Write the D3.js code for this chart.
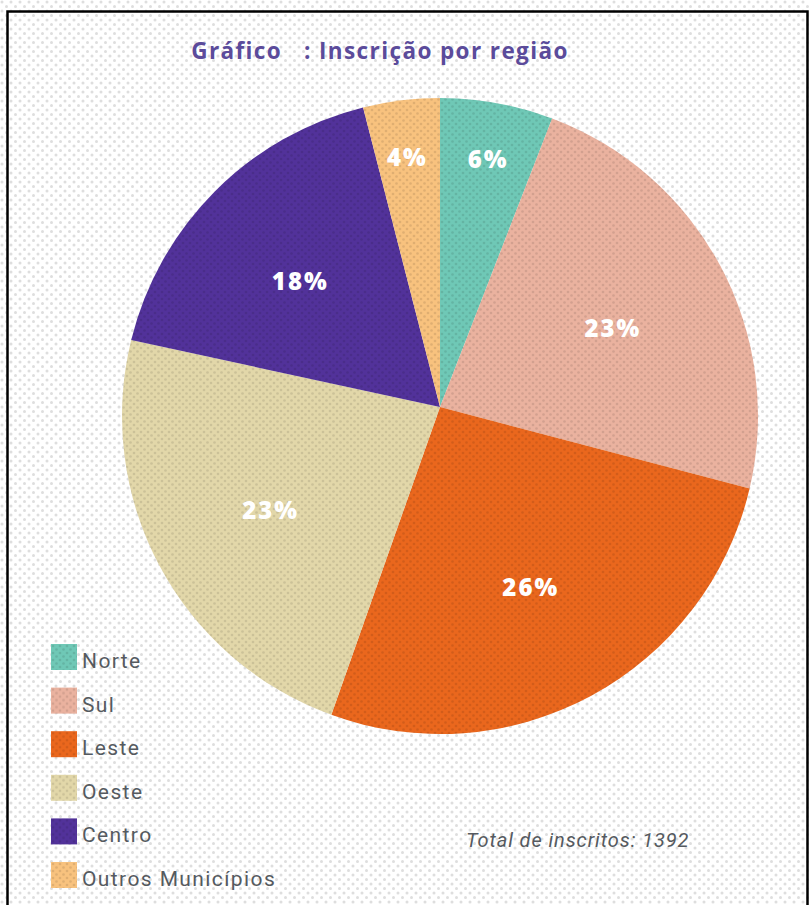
<!DOCTYPE html>
<html>
<head>
<meta charset="utf-8">
<script src="https://cdn.jsdelivr.net/npm/d3@7"></script>
<style>
  html, body { margin: 0; padding: 0; background: #fff; }
  svg { display: block; }
</style>
</head>
<body>
<svg id="chart" width="809" height="905"></svg>
<script>
// ---- data ----
const categories = ["Norte", "Sul", "Leste", "Oeste", "Centro", "Outros Municípios"];
// shares (%); labels are the rounded values
const shares = [5.9, 23.2, 26.3, 23.0, 17.6, 4.0];
const colors = ["#6fc8b6", "#eab29f", "#ea671d", "#e2d7a9", "#52329a", "#f8c27e"];
const titleText = "Gráfico   : Inscrição por região";
const totalText = "Total de inscritos: 1392";

const W = 809, H = 905;
const svg = d3.select("#chart");
const defs = svg.append("defs");

// background dot pattern
const bg = defs.append("pattern").attr("id", "bgdots")
  .attr("width", 9).attr("height", 9).attr("patternUnits", "userSpaceOnUse");
bg.append("rect").attr("width", 9).attr("height", 9).attr("fill", "#ffffff");
bg.append("circle").attr("cx", 2).attr("cy", 2).attr("r", 1.5).attr("fill", "#dedede");
bg.append("circle").attr("cx", 6.5).attr("cy", 6.5).attr("r", 1.5).attr("fill", "#dedede");

// slice dot overlay
const sd = defs.append("pattern").attr("id", "slicedots")
  .attr("width", 7).attr("height", 7).attr("patternUnits", "userSpaceOnUse");
sd.append("circle").attr("cx", 2).attr("cy", 2).attr("r", 1.3).attr("fill", "rgba(0,0,0,0.10)");
sd.append("circle").attr("cx", 5.5).attr("cy", 5.5).attr("r", 1.3).attr("fill", "rgba(0,0,0,0.10)");

svg.append("rect").attr("width", W).attr("height", H).attr("fill", "url(#bgdots)");

// frame
svg.append("path")
  .attr("d", "M7.5,905 V11.5 H807.5 V905")
  .attr("fill", "none").attr("stroke", "#000").attr("stroke-width", 2.5);

// title
svg.append("text")
  .attr("x", 380).attr("y", 59)
  .attr("text-anchor", "middle")
  .attr("font-family", "'Open Sans', sans-serif")
  .attr("font-weight", "bold")
  .attr("font-size", 22.5)
  .attr("letter-spacing", 1.4)
  .attr("fill", "#5b4b9b")
  .attr("xml:space", "preserve")
  .style("white-space", "pre")
  .text(titleText);

// pie: outer circle centre (cx, cy), slices meet at an apex slightly above the centre
const cx = 440, cy = 416, R = 318;
const apexY = 407;
const data = categories.map((c, i) => ({ name: c, value: shares[i], color: colors[i] }));
const pie = d3.pie().value(d => d.value).sort(null);
const arcs = pie(data);

const px = 0, py = apexY - cy; // apex relative to circle centre
function rayPoint(a) {
  const ux = Math.sin(a), uy = -Math.cos(a);
  const b = px * ux + py * uy;
  const t = -b + Math.sqrt(b * b - (px * px + py * py) + R * R);
  return [px + t * ux, py + t * uy];
}
function slicePath(d) {
  const A = rayPoint(d.startAngle), B = rayPoint(d.endAngle);
  const p = d3.path();
  p.moveTo(px, py);
  p.lineTo(A[0], A[1]);
  p.arc(0, 0, R, Math.atan2(A[1], A[0]), Math.atan2(B[1], B[0]), false);
  p.closePath();
  return p.toString();
}

const g = svg.append("g").attr("transform", `translate(${cx},${cy})`);
g.selectAll("path.slice").data(arcs).enter().append("path")
  .attr("class", "slice")
  .attr("d", slicePath)
  .attr("fill", d => d.data.color);
g.selectAll("path.dots").data(arcs).enter().append("path")
  .attr("class", "dots")
  .attr("d", slicePath)
  .attr("fill", "url(#slicedots)");

// labels
g.selectAll("text.lbl").data(arcs).enter().append("text")
  .attr("class", "lbl")
  .attr("transform", d => {
    const r = d.data.value < 10 ? R * 0.82 : R * 0.61;
    const a = (d.startAngle + d.endAngle) / 2;
    return `translate(${Math.sin(a) * r},${-Math.cos(a) * r})`;
  })
  .attr("text-anchor", "middle")
  .attr("dy", "0.36em")
  .attr("font-family", "'Open Sans', sans-serif")
  .attr("font-weight", "800")
  .attr("font-size", 24)
  .attr("letter-spacing", 2)
  .attr("fill", "#ffffff")
  .text(d => Math.round(d.data.value) + "%");

// legend
const lg = svg.append("g").attr("transform", "translate(51,644)");
const rowH = 43.6;
const rows = lg.selectAll("g.row").data(data).enter().append("g")
  .attr("transform", (d, i) => `translate(0,${i * rowH})`);
rows.append("rect").attr("width", 26).attr("height", 26).attr("fill", d => d.color);
rows.append("rect").attr("width", 26).attr("height", 26).attr("fill", "url(#slicedots)");
rows.append("text")
  .attr("x", 31).attr("y", 24)
  .attr("font-family", "Roboto, sans-serif")
  .attr("font-size", 21)
  .attr("letter-spacing", 1.4)
  .attr("fill", "#555a60")
  .text(d => d.name);

// total
svg.append("text")
  .attr("x", 466).attr("y", 847)
  .attr("font-family", "Roboto, sans-serif")
  .attr("font-style", "italic")
  .attr("font-size", 20)
  .attr("letter-spacing", 0.9)
  .attr("fill", "#555a60")
  .text(totalText);
</script>
</body>
</html>
